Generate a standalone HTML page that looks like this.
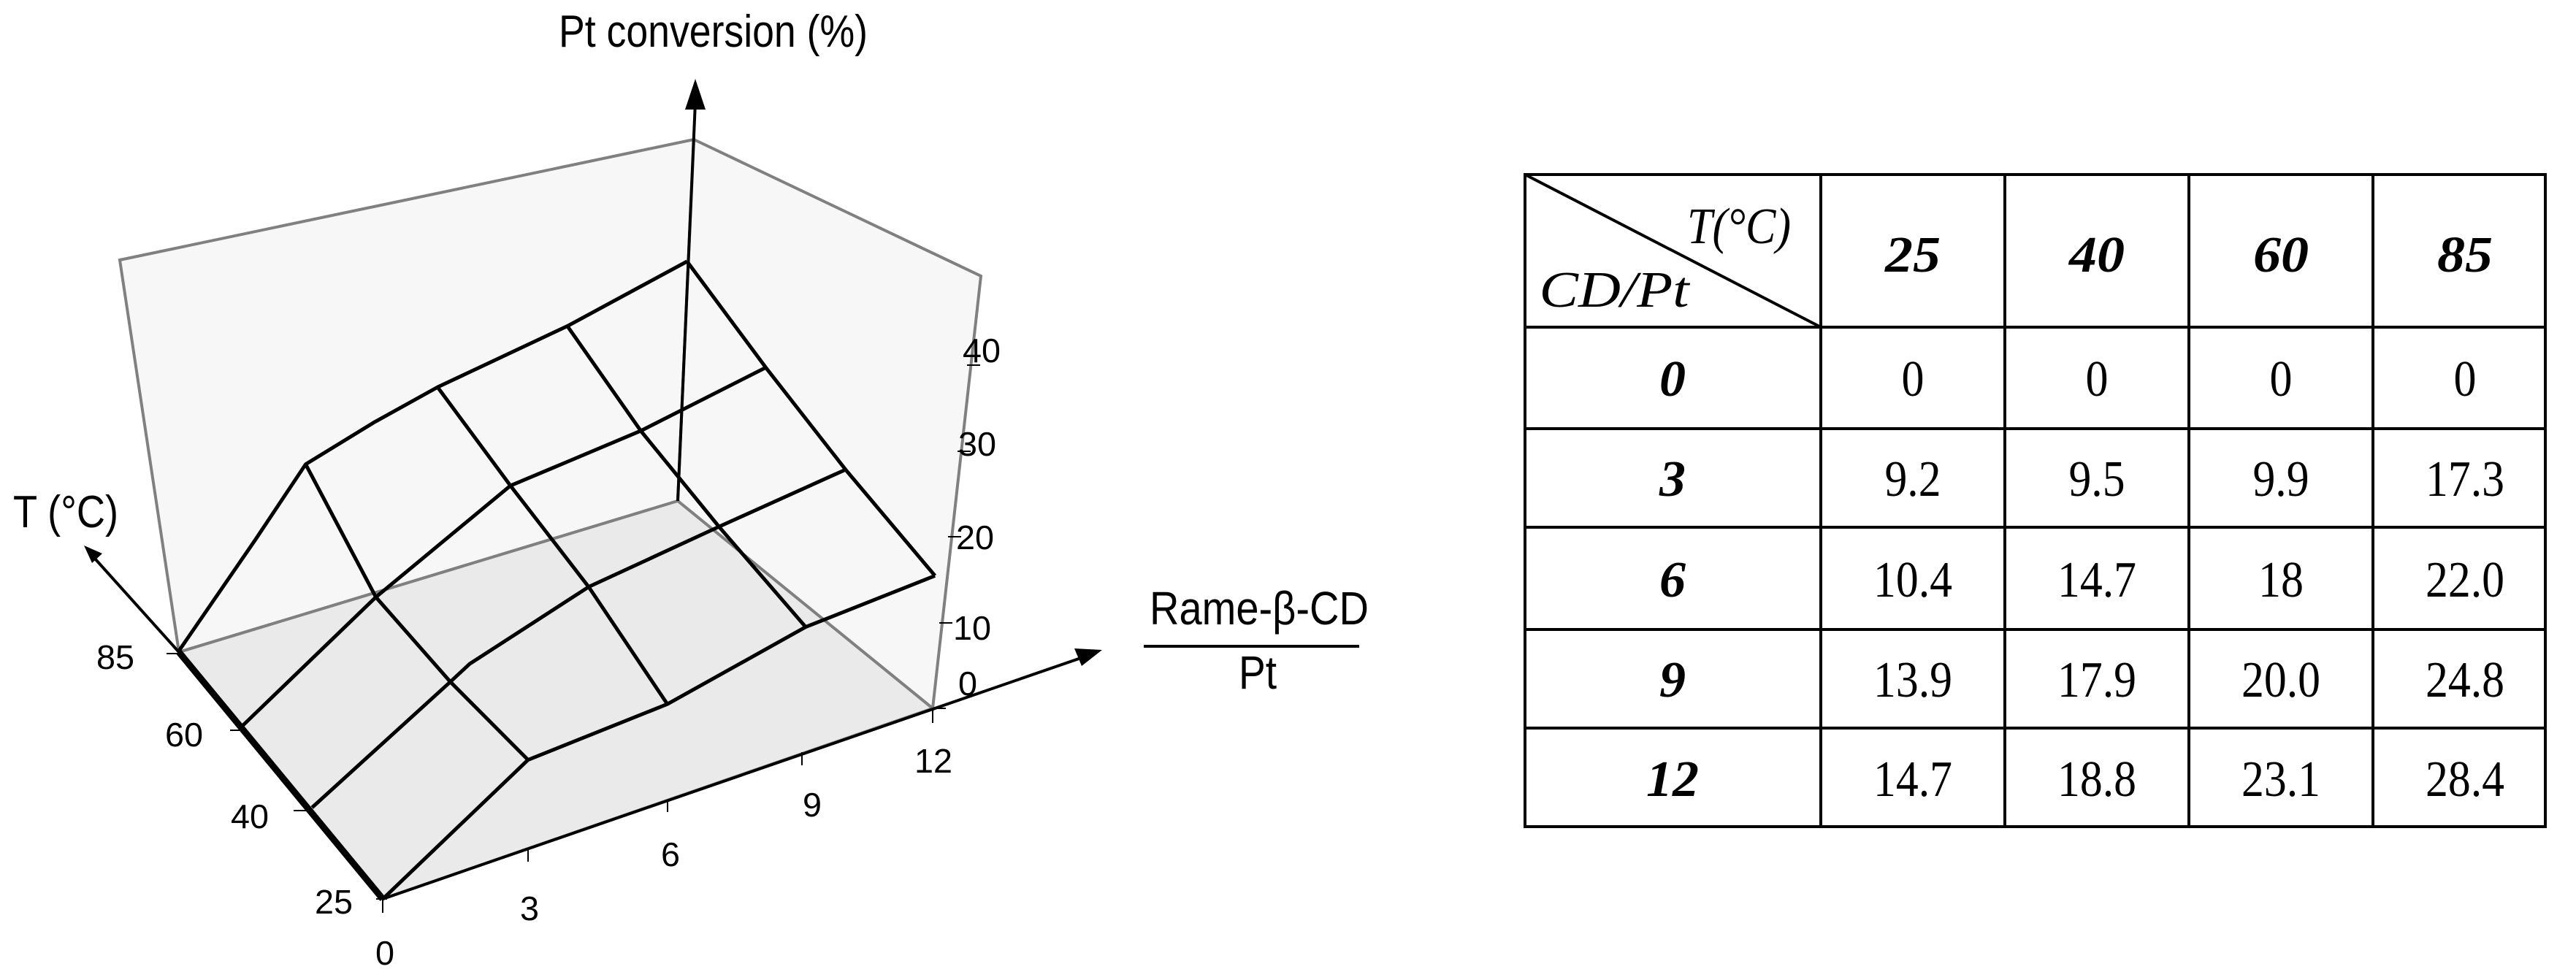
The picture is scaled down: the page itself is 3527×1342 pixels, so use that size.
<!DOCTYPE html>
<html><head><meta charset="utf-8"><style>html,body{margin:0;padding:0;background:#fff}svg{display:block}</style></head><body>
<svg width="3527" height="1342" viewBox="0 0 3527 1342" xmlns="http://www.w3.org/2000/svg" font-family="Liberation Sans, Arial, sans-serif">
<!-- walls -->
<polygon points="164,356 950,191 928,686 245,893" fill="#f7f7f7" stroke="#808080" stroke-width="4"/>
<polygon points="950,191 1343,378 1277,970 928,686" fill="#f7f7f7" stroke="#808080" stroke-width="4"/>
<polygon points="245,893 928,686 1277,970 524,1231" fill="#eaeaea" stroke="#808080" stroke-width="4"/>
<!-- z axis -->
<line x1="928" y1="686" x2="952" y2="140" stroke="#000" stroke-width="4"/>
<path d="M952,108 L938,150 L966,150 z" fill="#000"/>
<!-- T axis -->
<line x1="524" y1="1231" x2="245" y2="893" stroke="#000" stroke-width="9"/>
<line x1="245" y1="893" x2="130" y2="765" stroke="#000" stroke-width="4"/>
<path d="M115,747 L140,758 L126,771 z" fill="#000"/>
<!-- x axis -->
<line x1="524" y1="1231" x2="1480" y2="901" stroke="#000" stroke-width="4"/>
<path d="M1509,890 L1471,888 L1481,912 z" fill="#000"/>
<!-- ticks -->
<g stroke="#000" stroke-width="2">
<line x1="228" y1="895" x2="245" y2="895"/><line x1="315" y1="1000" x2="332" y2="1000"/><line x1="402" y1="1110" x2="420" y2="1110"/><line x1="515" y1="1231" x2="530" y2="1231"/>
<line x1="524" y1="1231" x2="524" y2="1250"/><line x1="723" y1="1161" x2="723" y2="1180"/><line x1="914" y1="1095" x2="914" y2="1112"/><line x1="1098" y1="1030" x2="1098" y2="1048"/><line x1="1277" y1="970" x2="1277" y2="990"/>
<line x1="1277" y1="970" x2="1295" y2="970"/><line x1="1286" y1="853" x2="1304" y2="853"/><line x1="1298" y1="735" x2="1316" y2="735"/><line x1="1311" y1="618" x2="1329" y2="618"/><line x1="1324" y1="500" x2="1342" y2="500"/>
</g>
<!-- surface -->
<g transform="translate(200,300) scale(0.72833,0.61050)" fill="none" stroke="#000" stroke-width="5" stroke-linejoin="round">
<polyline vector-effect="non-scaling-stroke" points="445,1525 718,1213 980,1088 1240,915 1483,800"/>
<polyline vector-effect="non-scaling-stroke" points="312,1320 572,1038 608,998 832,825 1077,690 1315,562"/>
<polyline vector-effect="non-scaling-stroke" points="180,1138 432,848 685,598 930,475 1165,333"/>
<polyline vector-effect="non-scaling-stroke" points="62,968 205,720 300,550 430,455 548,377 792,240 1017,95"/>
<polyline vector-effect="non-scaling-stroke" points="300,550 432,848 572,1038 718,1213"/>
<polyline vector-effect="non-scaling-stroke" points="548,377 685,598 832,825 980,1088"/>
<polyline vector-effect="non-scaling-stroke" points="792,240 930,475 1077,690 1240,915"/>
<polyline vector-effect="non-scaling-stroke" points="1017,95 1165,333 1315,562 1483,800"/>
</g>
<!-- labels -->
<g fill="#000" lengthAdjust="spacingAndGlyphs">
<text x="765" y="64" font-size="62" textLength="423" lengthAdjust="spacingAndGlyphs">Pt conversion (%)</text>
<text x="18" y="722" font-size="62" textLength="144" lengthAdjust="spacingAndGlyphs">T (°C)</text>
<text x="1574" y="855" font-size="64" textLength="300" lengthAdjust="spacingAndGlyphs">Rame-β-CD</text>
<line x1="1566" y1="885" x2="1861" y2="885" stroke="#000" stroke-width="4"/>
<text x="1696" y="943" font-size="64" textLength="52" lengthAdjust="spacingAndGlyphs">Pt</text>
</g>
<g font-size="46" fill="#000">
<text x="132" y="916" textLength="52" lengthAdjust="spacingAndGlyphs">85</text>
<text x="226" y="1022" textLength="52" lengthAdjust="spacingAndGlyphs">60</text>
<text x="316" y="1134" textLength="52" lengthAdjust="spacingAndGlyphs">40</text>
<text x="431" y="1251" textLength="52" lengthAdjust="spacingAndGlyphs">25</text>
<text x="514" y="1321" textLength="26" lengthAdjust="spacingAndGlyphs">0</text>
<text x="712" y="1260" textLength="26" lengthAdjust="spacingAndGlyphs">3</text>
<text x="905" y="1186" textLength="26" lengthAdjust="spacingAndGlyphs">6</text>
<text x="1099" y="1118" textLength="26" lengthAdjust="spacingAndGlyphs">9</text>
<text x="1252" y="1058" textLength="52" lengthAdjust="spacingAndGlyphs">12</text>
<text x="1312" y="952" textLength="26" lengthAdjust="spacingAndGlyphs">0</text>
<text x="1305" y="876" textLength="52" lengthAdjust="spacingAndGlyphs">10</text>
<text x="1309" y="752" textLength="52" lengthAdjust="spacingAndGlyphs">20</text>
<text x="1312" y="624" textLength="52" lengthAdjust="spacingAndGlyphs">30</text>
<text x="1318" y="496" textLength="52" lengthAdjust="spacingAndGlyphs">40</text>
</g>
<!-- table -->
<g stroke="#000" stroke-width="4" fill="none">
<rect x="2088" y="239" width="1397" height="893"/>
<line x1="2493" y1="239" x2="2493" y2="1132"/><line x1="2745" y1="239" x2="2745" y2="1132"/><line x1="2997" y1="239" x2="2997" y2="1132"/><line x1="3249" y1="239" x2="3249" y2="1132"/>
<line x1="2088" y1="448" x2="3485" y2="448"/><line x1="2088" y1="587" x2="3485" y2="587"/><line x1="2088" y1="722" x2="3485" y2="722"/><line x1="2088" y1="862" x2="3485" y2="862"/><line x1="2088" y1="997" x2="3485" y2="997"/>
<line x1="2088" y1="239" x2="2493" y2="448"/>
</g>
<g font-family="Liberation Serif, serif" font-size="70" fill="#000" text-anchor="middle">
<text x="2381" y="333" font-style="italic" textLength="142" lengthAdjust="spacingAndGlyphs">T(°C)</text>
<text x="2210" y="420" font-style="italic" textLength="205" lengthAdjust="spacingAndGlyphs">CD/Pt</text>
<g font-weight="bold" font-style="italic">
<text x="2619" y="372" textLength="76" lengthAdjust="spacingAndGlyphs">25</text>
<text x="2871" y="372" textLength="76" lengthAdjust="spacingAndGlyphs">40</text>
<text x="3123" y="372" textLength="76" lengthAdjust="spacingAndGlyphs">60</text>
<text x="3375" y="372" textLength="76" lengthAdjust="spacingAndGlyphs">85</text>
<text x="2290" y="542" textLength="36" lengthAdjust="spacingAndGlyphs">0</text>
<text x="2290" y="679" textLength="36" lengthAdjust="spacingAndGlyphs">3</text>
<text x="2290" y="817" textLength="36" lengthAdjust="spacingAndGlyphs">6</text>
<text x="2290" y="954" textLength="36" lengthAdjust="spacingAndGlyphs">9</text>
<text x="2290" y="1090" textLength="72" lengthAdjust="spacingAndGlyphs">12</text>
</g>
<text x="2619" y="542" textLength="31" lengthAdjust="spacingAndGlyphs">0</text><text x="2871" y="542" textLength="31" lengthAdjust="spacingAndGlyphs">0</text><text x="3123" y="542" textLength="31" lengthAdjust="spacingAndGlyphs">0</text><text x="3375" y="542" textLength="31" lengthAdjust="spacingAndGlyphs">0</text>
<text x="2619" y="679" textLength="77" lengthAdjust="spacingAndGlyphs">9.2</text><text x="2871" y="679" textLength="77" lengthAdjust="spacingAndGlyphs">9.5</text><text x="3123" y="679" textLength="77" lengthAdjust="spacingAndGlyphs">9.9</text><text x="3375" y="679" textLength="108" lengthAdjust="spacingAndGlyphs">17.3</text>
<text x="2619" y="817" textLength="108" lengthAdjust="spacingAndGlyphs">10.4</text><text x="2871" y="817" textLength="108" lengthAdjust="spacingAndGlyphs">14.7</text><text x="3123" y="817" textLength="62" lengthAdjust="spacingAndGlyphs">18</text><text x="3375" y="817" textLength="108" lengthAdjust="spacingAndGlyphs">22.0</text>
<text x="2619" y="954" textLength="108" lengthAdjust="spacingAndGlyphs">13.9</text><text x="2871" y="954" textLength="108" lengthAdjust="spacingAndGlyphs">17.9</text><text x="3123" y="954" textLength="108" lengthAdjust="spacingAndGlyphs">20.0</text><text x="3375" y="954" textLength="108" lengthAdjust="spacingAndGlyphs">24.8</text>
<text x="2619" y="1090" textLength="108" lengthAdjust="spacingAndGlyphs">14.7</text><text x="2871" y="1090" textLength="108" lengthAdjust="spacingAndGlyphs">18.8</text><text x="3123" y="1090" textLength="108" lengthAdjust="spacingAndGlyphs">23.1</text><text x="3375" y="1090" textLength="108" lengthAdjust="spacingAndGlyphs">28.4</text>
</g>
</svg>
</body></html>
